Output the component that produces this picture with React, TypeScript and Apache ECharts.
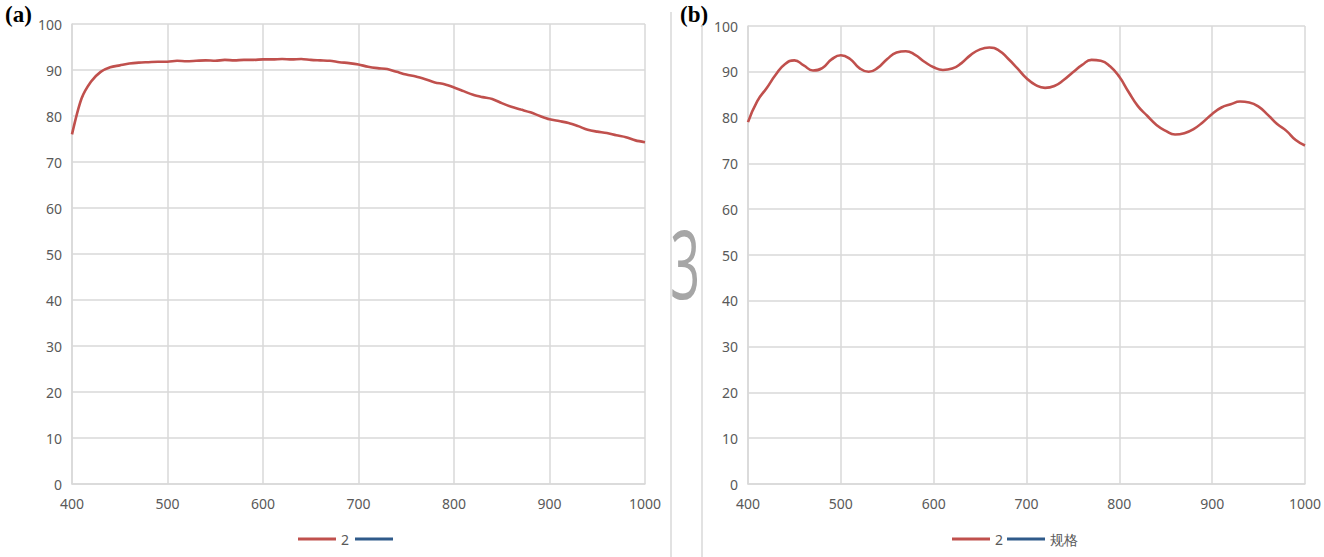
import React, { useEffect, useRef } from "react";
import * as echarts from "echarts";

const wavelengths = [
  400, 410, 420, 430, 440, 450, 460, 470, 480, 490, 500, 510, 520, 530, 540, 550, 560, 570, 580, 590,
  600, 610, 620, 630, 640, 650, 660, 670, 680, 690, 700, 710, 720, 730, 740, 750, 760, 770, 780, 790,
  800, 810, 820, 830, 840, 850, 860, 870, 880, 890, 900, 910, 920, 930, 940, 950, 960, 970, 980, 990, 1000,
];

const seriesA = [
  76.0, 83.8, 87.5, 89.6, 90.6, 91.0, 91.4, 91.6, 91.7, 91.8, 91.8, 92.0, 91.9, 92.0, 92.1, 92.0, 92.2, 92.1, 92.2, 92.2,
  92.3, 92.3, 92.4, 92.3, 92.4, 92.2, 92.1, 92.0, 91.7, 91.5, 91.2, 90.7, 90.4, 90.2, 89.6, 89.0, 88.6, 88.0, 87.3, 86.9,
  86.2, 85.4, 84.6, 84.1, 83.7, 82.8, 82.0, 81.4, 80.8, 80.0, 79.3, 78.9, 78.5, 77.8, 77.0, 76.6, 76.3, 75.8, 75.4, 74.7, 74.3,
];

const seriesB = [
  79.0, 83.6, 86.4, 89.4, 91.7, 92.5, 91.4, 90.3, 90.8, 92.7, 93.6, 92.8, 90.8, 90.0, 90.9, 92.8, 94.2, 94.5, 93.7, 92.2,
  91.0, 90.4, 90.7, 91.9, 93.7, 94.9, 95.3, 94.7, 92.9, 90.8, 88.6, 87.1, 86.5, 86.9, 88.2, 89.9, 91.5, 92.6, 92.4, 91.2,
  88.9, 85.6, 82.5, 80.4, 78.4, 77.1, 76.3, 76.6, 77.5, 79.0, 80.8, 82.2, 82.9, 83.5, 83.3, 82.4, 80.6, 78.6, 77.1, 75.1, 73.9,
];

const xTicks = { min: 400, max: 1000, interval: 100 };
const yTicks = { min: 0, max: 100, interval: 10 };

const RED = "#c0504d";
const BLUE = "#2f5a8a";
const GRID = "#d9d9d9";
const LABEL = "#595959";
const FONT = "'Noto Sans', 'Open Sans', sans-serif";

function pairs(ys: number[]) {
  return wavelengths.map((w, i) => [w, ys[i]]);
}

export default function App() {
  const ref = useRef<HTMLDivElement>(null);
  useEffect(() => {
    if (!ref.current) return;
    const chart = echarts.init(ref.current, undefined, { renderer: "svg" });
    const xAxisBase = (gridIndex: number) => ({
      type: "value" as const,
      gridIndex,
      min: xTicks.min,
      max: xTicks.max,
      interval: xTicks.interval,
      axisLine: { show: true, lineStyle: { color: GRID, width: 1.5 } },
      axisTick: { show: false },
      splitLine: { show: true, lineStyle: { color: GRID, width: 1.5 } },
      axisLabel: {
        color: LABEL,
        fontSize: 14,
        fontFamily: FONT,
        margin: 12,
        formatter: (v: number) => String(v),
      },
    });
    const yAxisBase = (gridIndex: number, margin: number) => ({
      type: "value" as const,
      gridIndex,
      min: yTicks.min,
      max: yTicks.max,
      interval: yTicks.interval,
      axisLine: { show: true, lineStyle: { color: GRID, width: 1.5 } },
      axisTick: { show: false },
      splitLine: { show: true, lineStyle: { color: GRID, width: 1.5 } },
      axisLabel: { color: LABEL, fontSize: 14, fontFamily: FONT, margin },
    });
    const legendText = { color: LABEL, fontSize: 14, fontFamily: FONT };
    chart.setOption({
      animation: false,
      backgroundColor: "#ffffff",
      grid: [
        { left: 72, right: 679, top: 24, bottom: 73 },
        { left: 748, right: 17, top: 26, bottom: 73 },
      ],
      xAxis: [xAxisBase(0), xAxisBase(1)],
      yAxis: [yAxisBase(0, 10), yAxisBase(1, 10)],
      legend: [
        {
          data: [
            { name: "2", textStyle: legendText },
            { name: " ", textStyle: legendText },
          ],
          left: 298,
          top: 532,
          padding: 0,
          icon: "rect",
          itemWidth: 38,
          itemHeight: 3,
          itemGap: 6,
          textStyle: legendText,
          selectedMode: false,
        },
        {
          data: [
            { name: "2", textStyle: legendText },
            { name: "规格", textStyle: legendText },
          ],
          left: 952,
          top: 532,
          padding: 0,
          icon: "rect",
          itemWidth: 38,
          itemHeight: 3,
          itemGap: 4,
          textStyle: legendText,
          selectedMode: false,
        },
      ],
      series: [
        {
          name: "2",
          type: "line",
          xAxisIndex: 0,
          yAxisIndex: 0,
          data: pairs(seriesA),
          showSymbol: false,
          symbol: "none",
          smooth: 0.3,
          color: RED,
          lineStyle: { color: RED, width: 2.6 },
        },
        {
          name: " ",
          type: "line",
          xAxisIndex: 0,
          yAxisIndex: 0,
          data: [],
          symbol: "none",
          color: BLUE,
          lineStyle: { color: BLUE, width: 2.6 },
        },
        {
          name: "2",
          type: "line",
          xAxisIndex: 1,
          yAxisIndex: 1,
          data: pairs(seriesB),
          showSymbol: false,
          symbol: "none",
          smooth: 0.5,
          color: RED,
          lineStyle: { color: RED, width: 2.6 },
        },
        {
          name: "规格",
          type: "line",
          xAxisIndex: 1,
          yAxisIndex: 1,
          data: [],
          symbol: "none",
          color: BLUE,
          lineStyle: { color: BLUE, width: 2.6 },
        },
      ],
      graphic: [
        {
          type: "text",
          left: 5,
          top: 3,
          style: { text: "(a)", font: "bold 23px 'Liberation Serif', 'DejaVu Serif', serif", fill: "#000" },
        },
        {
          type: "text",
          left: 680,
          top: 3,
          style: { text: "(b)", font: "bold 23px 'Liberation Serif', 'DejaVu Serif', serif", fill: "#000" },
        },
        {
          type: "line",
          shape: { x1: 671, y1: 12, x2: 671, y2: 557 },
          style: { stroke: GRID, lineWidth: 1.5 },
        },
        {
          type: "line",
          shape: { x1: 702, y1: 25, x2: 702, y2: 557 },
          style: { stroke: GRID, lineWidth: 1.5 },
        },
        {
          type: "text",
          x: 670,
          y: 214,
          scaleX: 0.55,
          style: {
            text: "3",
            font: "96px 'Open Sans', 'Noto Sans', sans-serif",
            fill: "#a6a6a6",
            textVerticalAlign: "top",
          },
        },
      ],
    });
    return () => chart.dispose();
  }, []);
  return (
    <div
      ref={ref}
      style={{ position: "fixed", left: 0, top: 0, width: 1324, height: 557, background: "#fff" }}
    />
  );
}
